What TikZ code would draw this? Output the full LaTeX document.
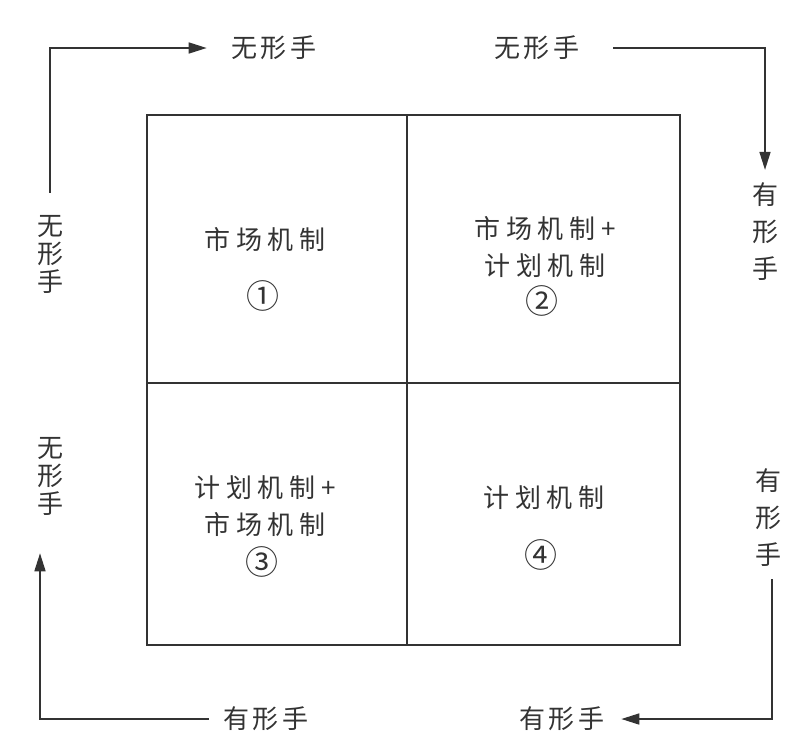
\documentclass[tikz,border=0pt]{standalone}
\usepackage{fontspec}
\newfontfamily\cjk[LetterSpace=12]{Noto Sans CJK SC}
\newfontfamily\cjkwide[LetterSpace=22]{Noto Sans CJK SC}
\usetikzlibrary{arrows.meta}
\definecolor{inkgray}{HTML}{333333}

\begin{document}
\begin{tikzpicture}[x=1pt, y=-1pt,
  every node/.style={inner sep=0pt, text=inkgray, font=\cjk\fontsize{26}{28}\selectfont},
  cell/.style={align=center, font=\cjkwide\fontsize{26}{37}\selectfont},
  num/.style={font=\cjk\fontsize{33}{33}\selectfont},
  hand/.style={align=center},
  tallhand/.style={align=center, font=\cjk\fontsize{26}{37}\selectfont},
  flow/.style={draw=inkgray, line width=1.6pt, -{Triangle[length=18pt,width=11pt]}}]
  \useasboundingbox (0,0) rectangle (810,753);
  % the four quadrants
  \draw[inkgray, line width=2pt] (147,115) rectangle (680,645);
  \draw[inkgray, line width=1.4pt] (407,115) -- (407,645);
  \draw[inkgray, line width=1.4pt] (147,383) -- (680,383);
  \node[cell] (m1) at (265,240) {市场机制};
  \node[num] (n1) at (263,296) {①};
  \node[cell] (m2) at (545,247) {市场机制+\\计划机制};
  \node[num] (n2) at (542,301) {②};
  \node[cell] (m3) at (265,506) {计划机制+\\市场机制};
  \node[num] (n3) at (262,562) {③};
  \node[cell] (m4) at (544,498) {计划机制};
  \node[num] (n4) at (541,555) {④};
  % hands round the box
  \node (tw1) at (274,48) {无形手};
  \node (tw2) at (537,48) {无形手};
  \node[hand] (lw1) at (50,254) {无\\形\\手};
  \node[hand] (lw2) at (50,476) {无\\形\\手};
  \node[tallhand] (rh1) at (765,232) {有\\形\\手};
  \node[tallhand] (rh2) at (768,518) {有\\形\\手};
  \node (bh1) at (266,719) {有形手};
  \node (bh2) at (562,719) {有形手};
  \draw[flow, shorten <=22pt, shorten >=25pt] (lw1.north) |- (tw1.west);
  \draw[flow, shorten <=34pt, shorten >=13pt] (tw2.east) -| (rh1.north);
  \draw[flow, shorten <=12pt, shorten >=17pt] ([xshift=4pt]rh2.south) |- (bh2.east);
  \draw[flow, shorten <=15pt, shorten >=38pt] (bh1.west) -| ([xshift=-10pt]lw2.south);
\end{tikzpicture}
\end{document}
